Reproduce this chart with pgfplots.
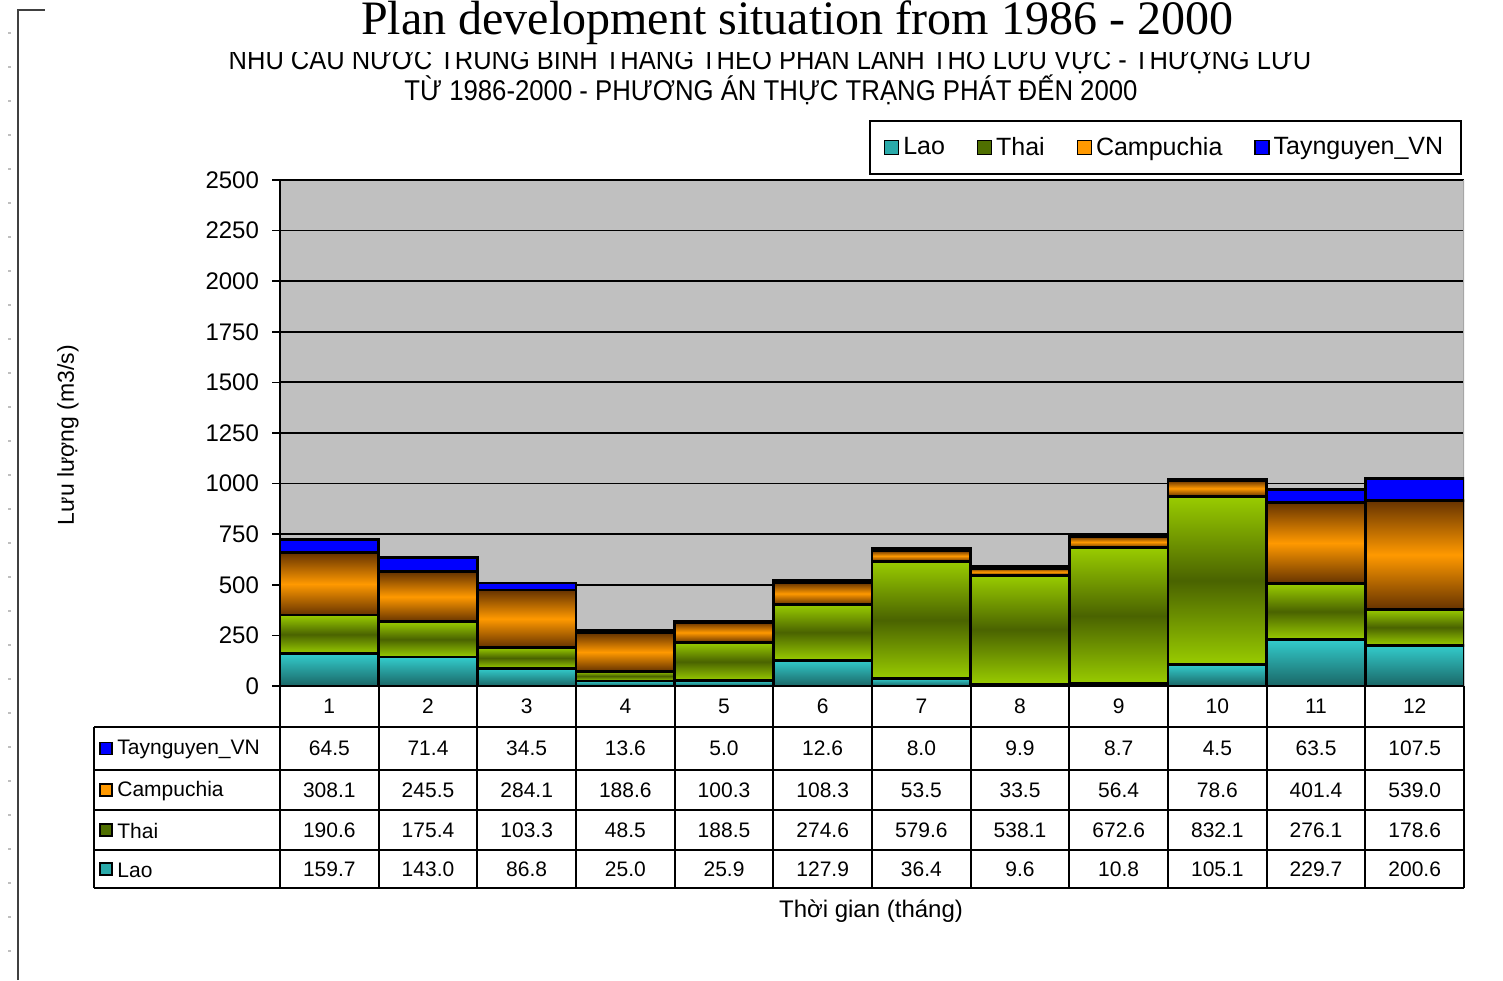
\documentclass[border=0pt]{standalone}
\usepackage{pgfplots}
\pgfplotsset{compat=1.18}
\usepackage{pgfplotstable}
\usepackage{fontspec}
\setmainfont{Liberation Sans}
\newfontfamily\titlefont{Liberation Serif}

\definecolor{laoB}{HTML}{33CCCC}
\definecolor{laoD}{HTML}{1A6666}
\definecolor{laoL}{HTML}{2AAAAA}
\definecolor{thaiB}{HTML}{99CC00}
\definecolor{thaiD}{HTML}{4A6300}
\definecolor{thaiL}{HTML}{4F6F00}
\definecolor{campB}{HTML}{FF9900}
\definecolor{campD}{HTML}{663300}
\definecolor{tayB}{HTML}{0000FF}
\definecolor{plotbg}{HTML}{C0C0C0}

\pgfplotstableread{
m lao thai camp tay
1 159.7 190.6 308.1 64.5
2 143.0 175.4 245.5 71.4
3 86.8 103.3 284.1 34.5
4 25.0 48.5 188.6 13.6
5 25.9 188.5 100.3 5.0
6 127.9 274.6 108.3 12.6
7 36.4 579.6 53.5 8.0
8 9.6 538.1 33.5 9.9
9 10.8 672.6 56.4 8.7
10 105.1 832.1 78.6 4.5
11 229.7 276.1 401.4 63.5
12 200.6 178.6 539.0 107.5
}\data

% one plot per bar, so that each bar gets its own shading
\newcommand\barseries[2]{%
  \pgfplotsinvokeforeach{0,...,11}{%
    \addplot[forget plot, draw=black, line width=1.4pt, #2]
      table[x=m, y expr={\coordindex==##1 ? \thisrow{#1} : 0}]{\data};
  }%
}

\begin{document}
\begin{tikzpicture}
\useasboundingbox (0,0) rectangle (751.5pt,490pt);
\begin{axis}[
 at={(140pt,147pt)}, anchor=south west,
 scale only axis, width=592pt, height=253pt,
 xmin=0.5, xmax=12.5, ymin=0, ymax=2500,
 ybar stacked, stacked ignores zero, bar width=1,
 ytick={0,250,...,2500}, xtick=\empty,
 axis lines*=left, axis line style={-, line width=1pt},
 tick align=outside, major tick length=4pt,
 ytick style={black, line width=0.8pt},
 ymajorgrids, grid style={black, line width=0.9pt},
 axis background/.style={fill=plotbg},
 yticklabel style={font=\fontsize{12}{12}\selectfont, xshift=-3pt},
 /pgf/number format/assume math mode=true,
 scaled y ticks=false,
 /pgf/number format/1000 sep={},
 legend columns=4,
 legend style={at={(rel axis cs:1,1)}, anchor=south east, yshift=2.5pt, xshift=-1pt,
   draw=black, line width=0.8pt, inner xsep=7pt, inner ysep=6pt,
   font=\fontsize{12.5}{13}\selectfont,
   /tikz/every even column/.append style={column sep=14pt}},
]
\barseries{lao}{top color=laoB, bottom color=laoD}
\barseries{thai}{top color=thaiB, bottom color=thaiB, middle color=thaiD}
\barseries{camp}{top color=campD, bottom color=campD, middle color=campB}
\barseries{tay}{fill=tayB}
\addlegendimage{legend image code/.code={\draw[black, line width=0.6pt, fill=laoL] (0pt,-3.5pt) rectangle (7pt,3.5pt);}}
\addlegendentry{Lao}
\addlegendimage{legend image code/.code={\draw[black, line width=0.6pt, fill=thaiL] (0pt,-3.5pt) rectangle (7pt,3.5pt);}}
\addlegendentry{Thai}
\addlegendimage{legend image code/.code={\draw[black, line width=0.6pt, fill=campB] (0pt,-3.5pt) rectangle (7pt,3.5pt);}}
\addlegendentry{Campuchia}
\addlegendimage{legend image code/.code={\draw[black, line width=0.6pt, fill=tayB] (0pt,-3.5pt) rectangle (7pt,3.5pt);}}
\addlegendentry{Taynguyen\_VN}
\draw[gray!70, line width=0.8pt] (rel axis cs:1,0) -- (rel axis cs:1,1);
\end{axis}

\begin{scope}[shift={(0pt,490pt)}, x=0.5pt, y=-0.5pt]
 % page frame
 \draw[line width=1pt, black!75] (18,980) -- (18,10) -- (45,10);
 \foreach \yy in {33,67,...,970} \draw[gray!50, line width=0.6pt] (8,\yy) -- (11,\yy);
 % subtitle
 \node[anchor=base, font=\fontsize{13}{13}\selectfont, inner sep=0pt] at (770,70)
   {\scalebox{0.98}[1.1]{NHU CẦU NƯỚC TRUNG BÌNH THÁNG THEO PHẦN LÃNH THỔ LƯU VỰC - THƯỢNG LƯU}};
 \node[anchor=base, font=\fontsize{13}{13}\selectfont, inner sep=0pt] at (771,101)
   {\scalebox{0.99}[1.1]{TỪ 1986-2000 - PHƯƠNG ÁN THỰC TRẠNG PHÁT ĐẾN 2000}};
 \fill[white] (150,-5) rectangle (1400,52);
 \node[anchor=base, font=\titlefont\fontsize{24}{24}\selectfont, inner sep=0pt] at (797,35)
   {Plan development situation from 1986 - 2000};
 % axis labels
 \node[rotate=90, font=\fontsize{11.5}{12}\selectfont] at (68,435) {Lưu lượng (m3/s)};
 \node[font=\fontsize{12}{12}\selectfont] at (871,911) {Thời gian (tháng)};
 % data table
 \foreach \k in {0,...,12} \draw[line width=1pt] ({280+98.6667*\k},686) -- ({280+98.6667*\k},888);
 \draw[line width=1pt] (94,727) -- (94,888);
 \foreach \yy in {727,770,810,850,888} \draw[line width=1pt] (94,\yy) -- (1464,\yy);
 \foreach \i in {1,...,12}
   \node[font=\fontsize{10.5}{12}\selectfont] at ({280+98.6667*(\i-0.5)},706) {\i};
 \foreach \v [count=\i] in {64.5,71.4,34.5,13.6,5.0,12.6,8.0,9.9,8.7,4.5,63.5,107.5}
   \node[font=\fontsize{10.5}{12}\selectfont] at ({280+98.6667*(\i-0.5)},748.5) {\v};
 \foreach \v [count=\i] in {308.1,245.5,284.1,188.6,100.3,108.3,53.5,33.5,56.4,78.6,401.4,539.0}
   \node[font=\fontsize{10.5}{12}\selectfont] at ({280+98.6667*(\i-0.5)},790) {\v};
 \foreach \v [count=\i] in {190.6,175.4,103.3,48.5,188.5,274.6,579.6,538.1,672.6,832.1,276.1,178.6}
   \node[font=\fontsize{10.5}{12}\selectfont] at ({280+98.6667*(\i-0.5)},830) {\v};
 \foreach \v [count=\i] in {159.7,143.0,86.8,25.0,25.9,127.9,36.4,9.6,10.8,105.1,229.7,200.6}
   \node[font=\fontsize{10.5}{12}\selectfont] at ({280+98.6667*(\i-0.5)},869) {\v};
 % row labels
 \foreach \c/\t/\yy in {tayB/Taynguyen\_VN/748.5, campB/Campuchia/790, thaiL/Thai/830, laoL/Lao/869} {
   \draw[black, line width=0.6pt, fill=\c] (100,\yy-6) rectangle (112,\yy+6);
   \node[anchor=west, inner sep=0pt, font=\fontsize{10.5}{12}\selectfont] at (117,\yy+1) {\t};
 }
\end{scope}
\end{tikzpicture}
\end{document}
